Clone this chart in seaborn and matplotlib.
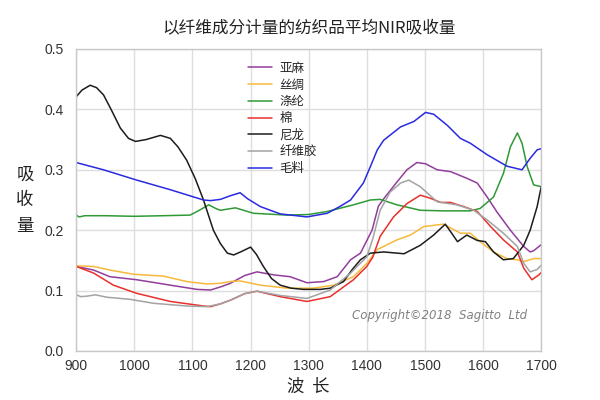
#!/usr/bin/env python3
"""
Espectros NIR promedio por fibra textil (900-1700 nm)
Output: out.png
"""

import pandas as pd
import matplotlib
matplotlib.use('Agg')
import matplotlib.pyplot as plt
import seaborn as sns

# Datos (longitud de onda nm, absorbancia)
lino_wl = [900, 930, 958, 1004, 1062, 1108, 1131, 1148, 1165, 1190, 1211, 1240, 1268, 1297,
           1326, 1349, 1372, 1389, 1409, 1420, 1429, 1452, 1469, 1486, 1501, 1521, 1544, 1572,
           1590, 1607, 1624, 1647, 1670, 1681, 1687, 1700]
lino_abs = [0.140, 0.134, 0.123, 0.118, 0.109, 0.102, 0.101, 0.106, 0.112, 0.125, 0.131, 0.126,
            0.123, 0.113, 0.115, 0.123, 0.151, 0.162, 0.200, 0.240, 0.252, 0.280, 0.300, 0.312,
            0.310, 0.300, 0.297, 0.286, 0.278, 0.255, 0.230, 0.200, 0.173, 0.164, 0.166, 0.176]

seda_wl = [900, 930, 958, 999, 1050, 1090, 1125, 1148, 1165, 1182, 1217, 1263, 1308, 1343,
           1377, 1400, 1418, 1452, 1475, 1498, 1532, 1561, 1578, 1595, 1618, 1641, 1659, 1670,
           1687, 1700]
seda_abs = [0.141, 0.140, 0.134, 0.127, 0.124, 0.115, 0.111, 0.112, 0.115, 0.116, 0.109, 0.104,
            0.104, 0.109, 0.123, 0.145, 0.168, 0.184, 0.192, 0.206, 0.210, 0.195, 0.195, 0.181,
            0.164, 0.153, 0.151, 0.148, 0.153, 0.153]

poliester_wl = [900, 905, 915, 950, 1000, 1050, 1096, 1110, 1128, 1140, 1148, 1174, 1205, 1263,
                1300, 1332, 1377, 1406, 1423, 1452, 1492, 1532, 1578, 1595, 1618, 1635, 1647,
                1659, 1667, 1676, 1687, 1700]
poliester_abs = [0.225, 0.222, 0.224, 0.224, 0.223, 0.224, 0.225, 0.232, 0.242, 0.236, 0.233,
                 0.237, 0.228, 0.225, 0.226, 0.231, 0.242, 0.250, 0.251, 0.242, 0.233, 0.232,
                 0.232, 0.236, 0.255, 0.294, 0.338, 0.361, 0.344, 0.305, 0.275, 0.272]

algodon_wl = [900, 930, 964, 1004, 1062, 1119, 1131, 1148, 1165, 1190, 1211, 1251, 1297, 1337,
              1377, 1400, 1410, 1423, 1446, 1469, 1492, 1509, 1527, 1544, 1567, 1590, 1613,
              1635, 1659, 1670, 1684, 1696, 1700]
algodon_abs = [0.140, 0.129, 0.109, 0.0955, 0.082, 0.0745, 0.0734, 0.078, 0.084, 0.095, 0.099,
               0.090, 0.082, 0.090, 0.118, 0.140, 0.155, 0.190, 0.222, 0.244, 0.258, 0.253,
               0.246, 0.246, 0.239, 0.231, 0.206, 0.184, 0.164, 0.137, 0.118, 0.126, 0.130]

nylon_wl = [900, 910, 924, 935, 947, 960, 976, 990, 1002, 1020, 1045, 1062, 1075, 1090, 1105,
            1119, 1136, 1148, 1160, 1171, 1185, 1200, 1210, 1222, 1236, 1251, 1270, 1291, 1320,
            1337, 1360, 1375, 1389, 1406, 1429, 1464, 1492, 1515, 1535, 1546, 1556, 1572, 1590,
            1604, 1618, 1635, 1652, 1670, 1681, 1693, 1700]
nylon_abs = [0.421, 0.432, 0.440, 0.436, 0.424, 0.400, 0.369, 0.352, 0.347, 0.350, 0.357, 0.352,
             0.338, 0.316, 0.285, 0.250, 0.200, 0.178, 0.162, 0.159, 0.165, 0.172, 0.160, 0.140,
             0.120, 0.109, 0.104, 0.102, 0.102, 0.104, 0.115, 0.135, 0.151, 0.162, 0.164, 0.161,
             0.175, 0.192, 0.210, 0.195, 0.181, 0.192, 0.183, 0.181, 0.164, 0.151, 0.153, 0.175,
             0.200, 0.239, 0.272]

viscosa_wl = [900, 908, 920, 933, 953, 993, 1033, 1090, 1125, 1148, 1165, 1190, 1211, 1251,
              1297, 1337, 1372, 1400, 1410, 1423, 1440, 1458, 1472, 1492, 1521, 1555, 1584,
              1607, 1635, 1659, 1670, 1681, 1693, 1700]
viscosa_abs = [0.093, 0.090, 0.091, 0.093, 0.089, 0.0855, 0.079, 0.0745, 0.0734, 0.078, 0.084,
               0.095, 0.099, 0.092, 0.087, 0.101, 0.129, 0.156, 0.185, 0.233, 0.263, 0.278,
               0.283, 0.272, 0.247, 0.242, 0.233, 0.217, 0.195, 0.173, 0.145, 0.131, 0.135,
               0.142]

lana_wl = [900, 947, 1004, 1062, 1119, 1131, 1148, 1165, 1182, 1195, 1217, 1251, 1297, 1332,
           1355, 1372, 1394, 1406, 1418, 1429, 1458, 1481, 1501, 1515, 1538, 1561, 1578, 1607,
           1641, 1667, 1681, 1693, 1700]
lana_abs = [0.312, 0.300, 0.283, 0.267, 0.250, 0.249, 0.251, 0.257, 0.262, 0.252, 0.239, 0.227,
            0.222, 0.228, 0.240, 0.250, 0.278, 0.305, 0.333, 0.349, 0.371, 0.380, 0.395, 0.392,
            0.374, 0.352, 0.344, 0.325, 0.306, 0.300, 0.319, 0.333, 0.335]

etiquetas = ['亚麻', '丝绸', '涤纶', '棉', '尼龙', '纤维胶', '毛料']
colores = ['#923d9c', '#f7b93a', '#2f9a35', '#e8302c', '#1c1c1c', '#a3a3a3', '#2a2ae0']

series = [(lino_wl, lino_abs), (seda_wl, seda_abs), (poliester_wl, poliester_abs),
          (algodon_wl, algodon_abs), (nylon_wl, nylon_abs), (viscosa_wl, viscosa_abs),
          (lana_wl, lana_abs)]

# Tabla larga para seaborn
filas = []
for nombre, (wl, ab) in zip(etiquetas, series):
    for w, a in zip(wl, ab):
        filas.append({'wl': w, 'abs': a, 'fibra': nombre})
df = pd.DataFrame(filas)

sns.set_theme(style='whitegrid')
plt.rcParams['font.family'] = ['Noto Sans CJK SC', 'DejaVu Sans']

fig = plt.figure(figsize=(6, 4), dpi=100)
ax = fig.add_axes([0.127, 0.1225, 0.775, 0.755])

sns.lineplot(data=df, x='wl', y='abs', hue='fibra', hue_order=etiquetas,
             palette=dict(zip(etiquetas, colores)), estimator=None, linewidth=1.1, ax=ax)

ax.set_xlim(900, 1700)
ax.set_ylim(0, 0.5)
ax.set_xticks(range(900, 1701, 100))
ax.set_yticks([0.0, 0.1, 0.2, 0.3, 0.4, 0.5])
ax.set_yticklabels(['0.0', '0.1', '0.2', '0.3', '0.4', '0.5'])
ax.tick_params(axis='both', length=0, labelsize=10, colors='#333333')
ax.tick_params(axis='y', pad=9)
ax.tick_params(axis='x', pad=6)
for lab in ax.get_xticklabels() + ax.get_yticklabels():
    lab.set_fontfamily(['Liberation Sans', 'DejaVu Sans'])
ax.grid(True, color='#dedede', linewidth=1)
for sp in ax.spines.values():
    sp.set_color('#c8c8c8')
    sp.set_linewidth(1)

ax.set_xlabel('波  长', fontsize=12.5, color='#222222', labelpad=3)
ax.set_ylabel('吸\n收\n量', fontsize=12.5, rotation=0, color='#222222',
              linespacing=1.55, labelpad=14, va='center')
ax.set_title('以纤维成分计量的纺织品平均NIR吸收量', fontsize=12, color='#222222', pad=11)

ax.legend(loc='upper left', bbox_to_anchor=(0.345, 0.995), frameon=False, fontsize=9,
          handlelength=1.9, handletextpad=0.6, labelspacing=0.3, title=None)

ax.text(1676, 0.058, 'Copyright©2018  Sagitto  Ltd', fontsize=8.5, style='italic',
        color='#808080', ha='right', va='center', family='DejaVu Sans')

plt.savefig('out.png', dpi=100)
plt.close()
